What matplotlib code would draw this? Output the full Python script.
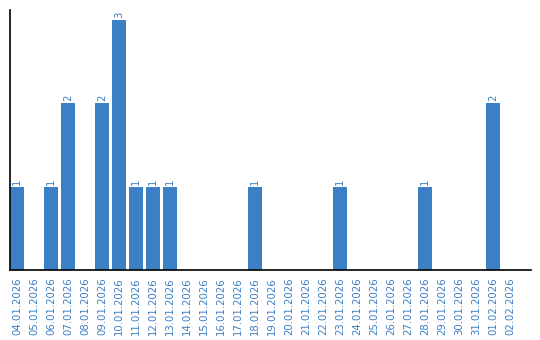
import numpy as np
import matplotlib.pyplot as plt

# dates and counts
dates = ['04.01.2026', '05.01.2026', '06.01.2026', '07.01.2026', '08.01.2026',
         '09.01.2026', '10.01.2026', '11.01.2026', '12.01.2026', '13.01.2026',
         '14.01.2026', '15.01.2026', '16.01.2026', '17.01.2026', '18.01.2026',
         '19.01.2026', '20.01.2026', '21.01.2026', '22.01.2026', '23.01.2026',
         '24.01.2026', '25.01.2026', '26.01.2026', '27.01.2026', '28.01.2026',
         '29.01.2026', '30.01.2026', '31.01.2026', '01.02.2026', '02.02.2026']
counts = [1, 0, 1, 2, 0, 2, 3, 1, 1, 1,
          0, 0, 0, 0, 1, 0, 0, 0, 0, 1,
          0, 0, 0, 0, 1, 0, 0, 0, 2, 0]

blue = '#3b7fc4'

fig = plt.figure(figsize=(5.4, 3.4), dpi=100)
ax = fig.add_axes([10 / 540, 70 / 340, 521 / 540, 260 / 340])

x = np.arange(len(dates))
ax.bar(x, counts, width=14 / 17, color=blue)

for xi, c in zip(x, counts):
    if c > 0:
        ax.annotate(str(c), (xi, c), xytext=(0, 1.5), textcoords='offset points',
                    ha='center', va='bottom', rotation=90, color=blue, fontsize=7.3)

ax.set_xlim(-7 / 17, -7 / 17 + 521 / 17)
ax.set_ylim(0, 3.12)
ax.set_xticks(x)
ax.set_xticklabels(dates, rotation=90, color=blue, fontsize=7.3)
ax.tick_params(axis='x', length=0, pad=5)
ax.set_yticks([])
for s in ['top', 'right']:
    ax.spines[s].set_visible(False)
for s in ['left', 'bottom']:
    ax.spines[s].set_color('black')
    ax.spines[s].set_linewidth(1.2)

fig.savefig('out.png', dpi=100)
